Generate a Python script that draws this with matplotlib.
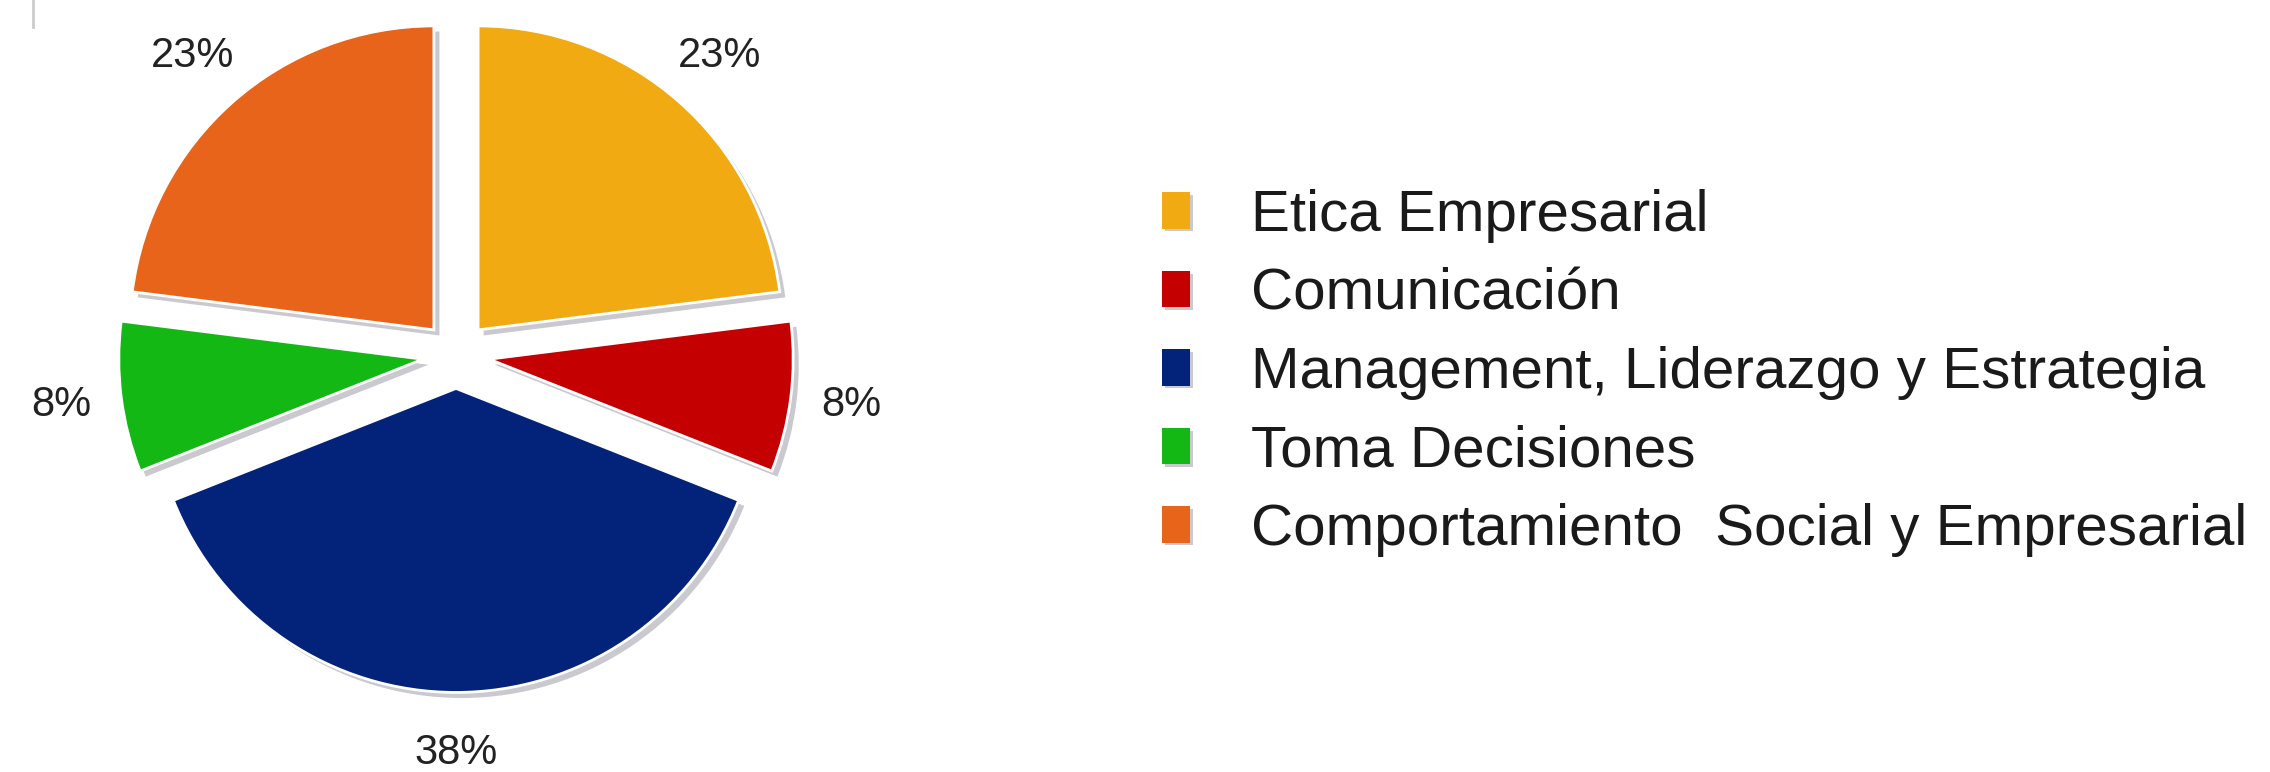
import matplotlib
matplotlib.use('Agg')
import matplotlib.pyplot as plt
import matplotlib.patheffects as pe
from matplotlib.patches import Patch
from matplotlib.lines import Line2D

plt.rcParams['font.family'] = ['Liberation Sans', 'DejaVu Sans']

# areas of training and their share (%)
areas = ['Etica Empresarial', 'Comunicación', 'Management, Liderazgo y Estrategia',
         'Toma Decisiones', 'Comportamiento  Social y Empresarial']
shares = [23, 8, 38, 8, 23]
colors = ['#F2AA12', '#C40000', '#03237A', '#14B814', '#E8641A']

W, H = 2270, 772
fig = plt.figure(figsize=(W / 100, H / 100), dpi=100)

# pie on the left, radius in pixels and centre position
R = 304
cx, cy = 456, H - 355
AXW = 912
ax = fig.add_axes([0, 0, AXW / W, 1])

shadow = [pe.SimplePatchShadow(offset=(4, -4), shadow_rgbFace='#c9c9cf', alpha=1), pe.Normal()]
wedges, texts, pcts = ax.pie(shares, colors=colors, startangle=90, counterclock=False,
                             explode=[0.11] * len(shares),
                             autopct=lambda p: f'{p:.0f}%', pctdistance=1.2,
                             wedgeprops=dict(edgecolor='white', linewidth=2),
                             textprops=dict(fontsize=30, color='#222222'))
for w in wedges:
    w.set_path_effects(shadow)
ax.set_xlim(-cx / R, (AXW - cx) / R)
ax.set_ylim(-cy / R, (H - cy) / R)

# legend with little shadowed squares
small_shadow = [pe.SimplePatchShadow(offset=(2, -2), shadow_rgbFace='#c9c9cf', alpha=1), pe.Normal()]
handles = [Patch(facecolor=c, edgecolor='none', path_effects=small_shadow) for c in colors]
fig.legend(handles, areas, loc='center left', bbox_to_anchor=(1162 / W, 1 - 373 / H),
           frameon=False, fontsize=42, handlelength=0.48, handleheight=0.58,
           handletextpad=1.05, labelspacing=0.42, borderpad=0, borderaxespad=0,
           labelcolor='#1a1a1a')

# thin grey tick in the top-left corner
fig.add_artist(Line2D([33 / W, 33 / W], [1, 1 - 27 / H], transform=fig.transFigure,
                      color='#cccccc', lw=2))

fig.savefig('out.png', dpi=100)
